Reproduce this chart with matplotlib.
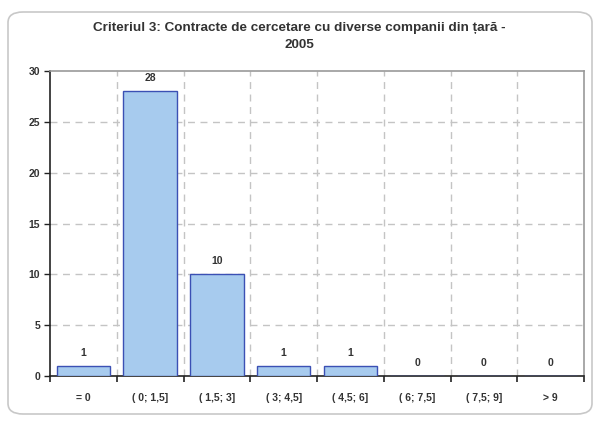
import matplotlib
matplotlib.use('Agg')
import matplotlib.pyplot as plt
from matplotlib.patches import FancyBboxPatch
import numpy as np

# Chart data
categories = ['= 0', '( 0; 1,5]', '( 1,5; 3]', '( 3; 4,5]', '( 4,5; 6]',
              '( 6; 7,5]', '( 7,5; 9]', '> 9']
counts = [1, 28, 10, 1, 1, 0, 0, 0]
y_ticks = [0, 5, 10, 15, 20, 25, 30]
title = 'Criteriul 3: Contracte de cercetare cu diverse companii din țară -\n2005'

plt.rcParams['font.family'] = ['Liberation Sans', 'DejaVu Sans']

W, H = 598, 424
fig = plt.figure(figsize=(W / 100, H / 100), dpi=100)

# rounded outer frame
frame = FancyBboxPatch((8 / W, 1 - 414 / H), 584 / W, 402 / H,
                       boxstyle='round,pad=0,rounding_size=0.025',
                       transform=fig.transFigure, facecolor='none',
                       edgecolor='#c8c8c8', linewidth=1.2, zorder=-1)
fig.patches.append(frame)

# plot area in pixel coords: x 50..584, y 71..376
ax = fig.add_axes([50 / W, 1 - 376 / H, 534 / W, 305 / H])
ax.set_facecolor('white')

x = np.arange(len(categories))
bars = ax.bar(x, counts, width=0.8, color='#a7cbee', edgecolor='#3b50b4',
              linewidth=1.0, zorder=3)

for xi, c in zip(x, counts):
    ax.annotate(str(c), (xi, c), xytext=(0, 6), textcoords='offset points',
                ha='center', va='bottom', fontsize=7.5, fontweight='bold',
                color='#333333')

ax.set_xlim(-0.5, len(categories) - 0.5)
ax.set_ylim(0, 30)
ax.set_yticks(y_ticks)
ax.set_yticklabels([str(t) for t in y_ticks], fontsize=7.5, fontweight='bold',
                   color='#333333')

ax.set_xticks(x)
ax.set_xticklabels(categories, fontsize=7.5, fontweight='bold', color='#333333')
ax.tick_params(axis='x', which='major', length=0, pad=12)
boundaries = np.arange(-0.5, len(categories), 1.0)
ax.set_xticks(boundaries, minor=True)
ax.tick_params(axis='x', which='minor', length=4, width=1.2, direction='out',
               color='#222222')
ax.tick_params(axis='y', length=4, width=1.0, direction='out', color='#222222',
               pad=3)

# dashed grid
for b in boundaries[1:-1]:
    ax.axvline(b, color='#c4c4c4', linestyle=(0, (5, 4)), linewidth=1.0, zorder=1)
for t in y_ticks[1:-1]:
    ax.axhline(t, color='#c4c4c4', linestyle=(0, (5, 4)), linewidth=1.0, zorder=1)

ax.spines['left'].set_color('#222222')
ax.spines['bottom'].set_color('#222222')
ax.spines['left'].set_linewidth(1.2)
ax.spines['bottom'].set_linewidth(1.2)
ax.spines['top'].set_color('#999999')
ax.spines['right'].set_color('#999999')
ax.spines['top'].set_linewidth(1.2)
ax.spines['right'].set_linewidth(1.2)

fig.text(0.5, 1 - 22 / H, title, ha='center', va='top', fontsize=9.7,
         fontweight='bold', color='#333333', linespacing=1.5)

fig.savefig('out.png', dpi=100)
